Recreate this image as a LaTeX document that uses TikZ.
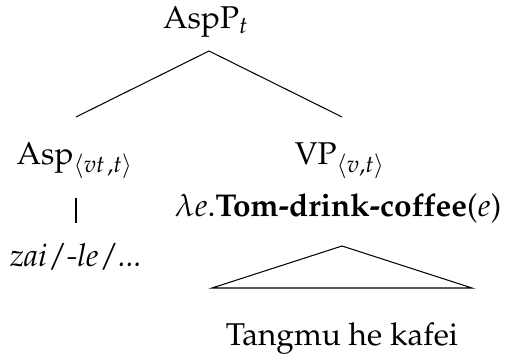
\documentclass[tikz,border=0pt]{standalone}
\usepackage[T1]{fontenc}
\usepackage{mathpazo}
\usepackage{amsmath,amssymb}
\usepackage{tikz}
\usetikzlibrary{positioning,calc}

\DeclareMathSizes{12.2}{12.2}{9.2}{7}

\tikzset{
  lbl/.style={anchor=base, inner sep=0pt, font=\fontsize{12.2}{14}\selectfont},
  branch/.style={line width=0.4pt}
}

\begin{document}
\begin{tikzpicture}[x=0.387pt, y=-0.387pt]
    \useasboundingbox (0,0) rectangle (511,356);
    % labels
    \node[lbl] (aspp) at (206, 28.5) {AspP$_t$};
    \node[lbl] (asp) at (75, 165) {Asp$_{\langle vt\mkern2mu,t\rangle}$};
    \node[lbl] (vp) at (340, 165) {VP$_{\langle v,t\rangle}$};
    \node[lbl] (zai) at (76, 267) {\textit{zai\,/\,-le\,/\,...}};
    \node[lbl] (lam) at (338, 217) {$\lambda e$.\textbf{Tom-drink-coffee}($e$)};
    \node[lbl] (tangmu) at (342, 345) {Tangmu he kafei};
    % branch points
    \coordinate (aspp-b) at (209, 51);
    \coordinate (asp-t) at (76, 117);
    \coordinate (vp-t) at (342, 117);
    \coordinate (asp-b) at (76, 198);
    \coordinate (zai-t) at (76, 223);
    \coordinate (tri-a) at (342, 246);
    \coordinate (tri-l) at (212, 288);
    \coordinate (tri-r) at (472, 288);
    \draw[branch] (asp-t) -- (aspp-b) -- (vp-t);
    \draw[branch] (asp-b) -- (zai-t);
    \draw[branch] (tri-a) -- (tri-l) -- (tri-r) -- cycle;
\end{tikzpicture}
\end{document}
